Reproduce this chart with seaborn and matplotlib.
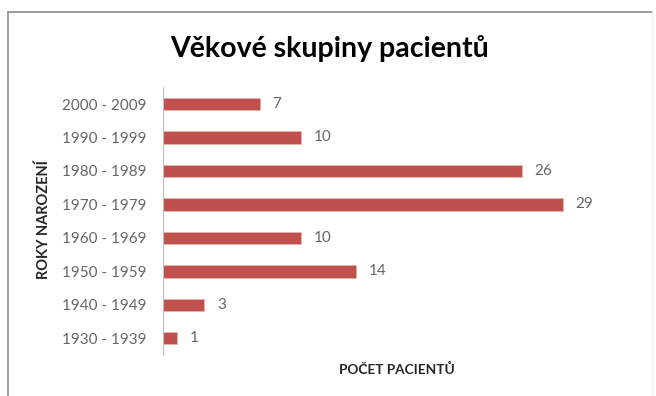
import matplotlib
matplotlib.use("Agg")
import matplotlib.pyplot as plt
import seaborn as sns
import pandas as pd
from matplotlib.lines import Line2D

# Birth-decade groups (top to bottom) and patient counts
decades = ["2000 - 2009", "1990 - 1999", "1980 - 1989", "1970 - 1979",
           "1960 - 1969", "1950 - 1959", "1940 - 1949", "1930 - 1939"]
counts = [7, 10, 26, 29, 10, 14, 3, 1]

title = "Věkové skupiny pacientů"
ylabel = "ROKY NAROZENÍ"
xlabel = "POČET PACIENTŮ"

df = pd.DataFrame({"decade": decades, "count": counts})

sns.set_theme(style="white")
plt.rcParams["font.family"] = ["Lato", "DejaVu Sans"]

fig = plt.figure(figsize=(6.56, 3.96), dpi=100)
ax = fig.add_axes([163 / 656, 1 - 355 / 396, (646 - 163) / 656, (355 - 87.3) / 396])

sns.barplot(data=df, x="count", y="decade", orient="h", color="#C0504D",
            saturation=1, width=0.37, ax=ax, edgecolor="#E8B5B3", linewidth=0.6)

ax.set_xlim(0, 35)
ax.set_ylim(7.5, -0.5)
ax.set_xticks([])
ax.tick_params(axis="y", length=0, pad=12, labelsize=11, labelcolor="#666666")
for s in ["top", "right", "bottom"]:
    ax.spines[s].set_visible(False)
ax.spines["left"].set_color("#BFBFBF")
ax.spines["left"].set_linewidth(0.8)

for c in ax.containers:
    ax.bar_label(c, labels=[str(v) for v in counts], padding=9,
                 fontsize=11, color="#666666")

ax.set_xlabel("")
ax.set_ylabel("")
fig.text(397 / 656, 1 - 369 / 396, xlabel, ha="center", va="center",
         fontsize=9.8, fontweight="bold", color="#262626")
fig.text(44 / 656, 1 - 220 / 396, ylabel, ha="center", va="center",
         rotation=90, fontsize=10.5, fontweight="bold", color="#262626")
fig.text(330 / 656, 1 - 48 / 396, title, ha="center", va="center",
         fontsize=20.5, fontweight="bold", color="#000000")

# chart frame
fig.add_artist(Line2D([8 / 656, 652 / 656], [1 - 12 / 396, 1 - 12 / 396],
                      transform=fig.transFigure, color="#8C8C8C", lw=1.2))
fig.add_artist(Line2D([8 / 656, 8 / 656], [1 - 12 / 396, 0],
                      transform=fig.transFigure, color="#8C8C8C", lw=1.2))
fig.add_artist(Line2D([652 / 656, 652 / 656], [1 - 12 / 396, 0],
                      transform=fig.transFigure, color="#EEEEEE", lw=1.0))

fig.savefig("out.png", dpi=100)
